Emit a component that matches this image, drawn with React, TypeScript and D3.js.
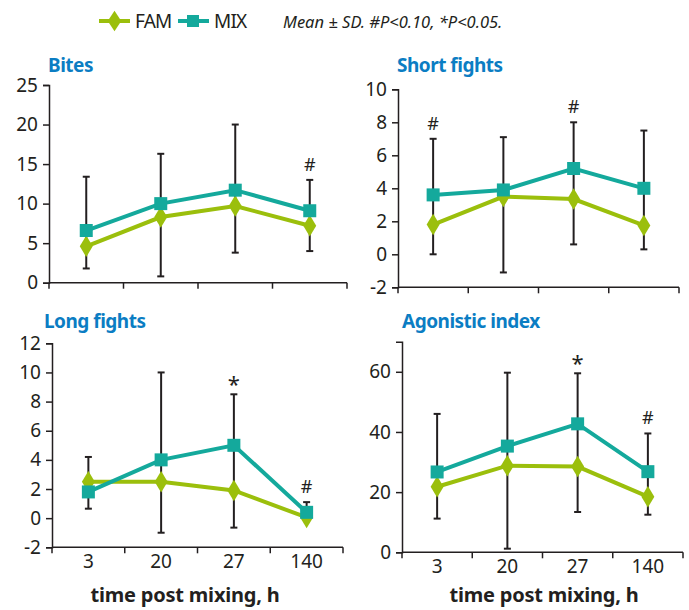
import React, { useEffect, useRef } from 'react'
import * as d3 from 'd3'

const categories = ['3', '20', '27', '140']

const bitesMix = [6.6, 10.0, 11.7, 9.1]
const bitesFam = [4.6, 8.3, 9.7, 7.2]
const bitesMixSd = [6.8, 6.3, 8.3, 3.9]
const bitesFamSd = [2.8, 7.5, 5.9, 3.2]
const bitesMarks = ['', '', '', '#']

const shortMix = [3.6, 3.9, 5.2, 4.0]
const shortFam = [1.8, 3.5, 3.35, 1.75]
const shortMixSd = [3.4, 3.2, 2.8, 3.5]
const shortFamSd = [1.8, 4.6, 2.75, 1.45]
const shortMarks = ['#', '', '#', '']

const longMix = [1.8, 4.0, 5.0, 0.4]
const longFam = [2.5, 2.5, 1.9, 0.05]
const longMixSd = [2.4, 6.0, 3.5, 0.7]
const longFamSd = [1.85, 3.5, 2.55, 0]
const longMarks = ['', '', '*', '#']

const agoMix = [26.7, 35.3, 42.7, 26.8]
const agoFam = [21.8, 28.8, 28.5, 18.5]
const agoMixSd = [19.3, 24.4, 16.8, 12.7]
const agoFamSd = [10.6, 27.6, 15.1, 6.0]
const agoMarks = ['', '', '*', '#']

const FAM = '#9bbf0c'
const MIX = '#14a99c'
const INK = '#231f20'
const BLUE = '#0b7dc3'
const FONT = '"Noto Sans", "Open Sans", sans-serif'

const panels = [
  { title: 'Bites', mix: bitesMix, fam: bitesFam, mixSd: bitesMixSd, famSd: bitesFamSd, marks: bitesMarks,
    domain: [0, 25], ticks: [0, 5, 10, 15, 20, 25], x: [49, 347], y: [282.7, 85], titleX: 48, titleY: 72, labels: false, xTitle: 0 },
  { title: 'Short fights', mix: shortMix, fam: shortFam, mixSd: shortMixSd, famSd: shortFamSd, marks: shortMarks,
    domain: [-2, 10], ticks: [-2, 0, 2, 4, 6, 8, 10], x: [398, 679], y: [287.3, 89.3], titleX: 397, titleY: 72, labels: false, xTitle: 0 },
  { title: 'Long fights', mix: longMix, fam: longFam, mixSd: longMixSd, famSd: longFamSd, marks: longMarks,
    domain: [-2, 12], ticks: [-2, 0, 2, 4, 6, 8, 10, 12], x: [52, 343], y: [547.3, 343.3], titleX: 44, titleY: 328, labels: true, xTitle: 185 },
  { title: 'Agonistic index', mix: agoMix, fam: agoFam, mixSd: agoMixSd, famSd: agoFamSd, marks: agoMarks,
    domain: [0, 70], ticks: [0, 20, 40, 60], x: [402, 683], y: [552.3, 341.7], titleX: 402, titleY: 328, labels: true, xTitle: 544 }
]

function App () {
  const ref = useRef<SVGSVGElement>(null)

  useEffect(() => {
    const svg = d3.select(ref.current)
    svg.selectAll('*').remove()

    // legend
    const leg = svg.append('g')
    leg.append('line').attr('x1', 99).attr('x2', 130).attr('y1', 21).attr('y2', 21)
      .attr('stroke', FAM).attr('stroke-width', 4)
    leg.append('path').attr('d', d3.symbol(d3.symbolDiamond, 110)())
      .attr('transform', 'translate(114.5,21) scale(1.2,1.05)').attr('fill', FAM)
    leg.append('text').attr('x', 135).attr('y', 28).text('FAM')
      .attr('font-size', 19).attr('fill', INK).attr('font-family', FONT).attr('letter-spacing', -0.8)
    leg.append('line').attr('x1', 178).attr('x2', 209).attr('y1', 21).attr('y2', 21)
      .attr('stroke', MIX).attr('stroke-width', 4)
    leg.append('rect').attr('x', 187).attr('y', 15).attr('width', 12).attr('height', 12).attr('fill', MIX)
    leg.append('text').attr('x', 214).attr('y', 28).text('MIX')
      .attr('font-size', 19).attr('fill', INK).attr('font-family', FONT).attr('letter-spacing', -0.8)
    leg.append('text').attr('x', 283).attr('y', 28).text('Mean ± SD. #P<0.10, *P<0.05.')
      .attr('font-size', 16.5).attr('font-style', 'italic').attr('fill', INK).attr('font-family', FONT)

    panels.forEach(p => {
      const g = svg.append('g')
      const x = d3.scaleBand().domain(categories).range(p.x as [number, number])
      const y = d3.scaleLinear().domain(p.domain).range(p.y)
      const cx = (c: string) => (x(c) as number) + x.bandwidth() / 2

      g.append('text').attr('x', p.titleX).attr('y', p.titleY).text(p.title)
        .attr('fill', BLUE).attr('font-weight', 'bold').attr('font-size', 19)
        .attr('font-family', FONT).attr('letter-spacing', -0.5)

      // y axis
      const ya = g.append('g').attr('transform', 'translate(' + p.x[0] + ',0)')
        .call(d3.axisLeft(y).tickValues(p.ticks).tickFormat(d => String(d))
          .tickSizeOuter(0).tickSize(6).tickPadding(5))
      ya.select('.domain').attr('stroke', INK).attr('stroke-width', 1.5)
      ya.selectAll('line').attr('stroke', INK).attr('stroke-width', 1.5)
      ya.selectAll('text').attr('font-size', 19).attr('font-family', FONT).attr('fill', INK)

      // x axis
      const y0 = p.y[0]
      g.append('line').attr('x1', p.x[0]).attr('x2', p.x[1]).attr('y1', y0).attr('y2', y0)
        .attr('stroke', INK).attr('stroke-width', 1.5)
      const bounds = categories.map(c => x(c) as number).concat([p.x[1]])
      g.selectAll('.xt').data(bounds).enter().append('line')
        .attr('x1', d => d).attr('x2', d => d).attr('y1', y0).attr('y2', y0 + 6)
        .attr('stroke', INK).attr('stroke-width', 1.5)
      if (p.labels) {
        g.selectAll('.xl').data(categories).enter().append('text')
          .attr('x', d => cx(d)).attr('y', y0 + 21).attr('text-anchor', 'middle').text(d => d)
          .attr('font-size', 19).attr('font-family', FONT).attr('fill', INK)
        g.append('text').attr('x', p.xTitle).attr('y', 602).attr('text-anchor', 'middle')
          .text('time post mixing, h').attr('font-size', 20).attr('font-weight', 'bold')
          .attr('font-family', FONT).attr('fill', INK).attr('letter-spacing', -0.2)
      }

      // error bars: MIX upper, FAM lower
      categories.forEach((c, i) => {
        const top = y(p.mix[i] + p.mixSd[i])
        const bot = p.famSd[i] > 0 ? y(p.fam[i] - p.famSd[i]) : y(Math.min(p.fam[i], p.mix[i]))
        g.append('line').attr('x1', cx(c)).attr('x2', cx(c)).attr('y1', top).attr('y2', bot)
          .attr('stroke', INK).attr('stroke-width', 2)
        g.append('line').attr('x1', cx(c) - 3.5).attr('x2', cx(c) + 3.5).attr('y1', top).attr('y2', top)
          .attr('stroke', INK).attr('stroke-width', 2)
        if (p.famSd[i] > 0) {
          g.append('line').attr('x1', cx(c) - 3.5).attr('x2', cx(c) + 3.5).attr('y1', bot).attr('y2', bot)
            .attr('stroke', INK).attr('stroke-width', 2)
        }
        if (p.marks[i]) {
          g.append('text').attr('x', cx(c)).attr('y', top - (p.marks[i] === '*' ? 2 : 9))
            .attr('text-anchor', 'middle').text(p.marks[i])
            .attr('font-size', p.marks[i] === '*' ? 22 : 18).attr('font-family', FONT).attr('fill', INK)
        }
      })

      const line = d3.line<number>().x((d, i) => cx(categories[i])).y(d => y(d))
      g.append('path').attr('d', line(p.fam)).attr('fill', 'none').attr('stroke', FAM).attr('stroke-width', 4)
      g.append('path').attr('d', line(p.mix)).attr('fill', 'none').attr('stroke', MIX).attr('stroke-width', 4)

      g.selectAll('.fm').data(p.fam).enter().append('path')
        .attr('d', d3.symbol(d3.symbolDiamond, 110)())
        .attr('transform', (d, i) => 'translate(' + cx(categories[i]) + ',' + y(d) + ') scale(1.15,1.1)')
        .attr('fill', FAM)
      g.selectAll('.mm').data(p.mix).enter().append('rect')
        .attr('x', (d, i) => cx(categories[i]) - 6.5).attr('y', d => y(d) - 6.5)
        .attr('width', 13).attr('height', 13).attr('fill', MIX)
    })
  }, [])

  return (
    <svg ref={ref} width={689} height={610} style={{ position: 'absolute', left: 0, top: 0, background: '#fff' }} />
  )
}

export default App
